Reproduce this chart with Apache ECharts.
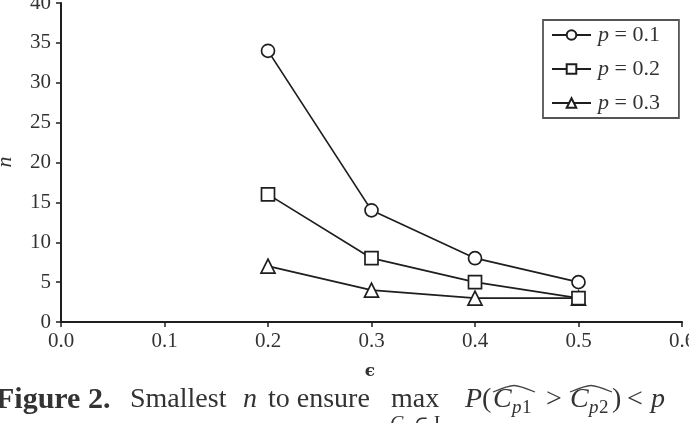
<!DOCTYPE html>
<html>
<head>
<meta charset="utf-8">
<script src="https://cdn.jsdelivr.net/npm/echarts@6/dist/echarts.min.js"></script>
<style>
html,body{margin:0;padding:0;background:#fff;}
#c{width:689px;height:423px;}
</style>
</head>
<body>
<div id="c"></div>
<script>
// Data
const epsValues = [0.2, 0.3, 0.4, 0.5];
const seriesNames = ['p = 0.1', 'p = 0.2', 'p = 0.3'];
const nP01 = [34, 14, 8, 5];
const nP02 = [16, 8, 5, 3];
const nP03 = [7, 4, 3, 3];
const xTicks = ['0.0', '0.1', '0.2', '0.3', '0.4', '0.5', '0.6'];
const yTicks = ['0', '5', '10', '15', '20', '25', '30', '35', '40'];

const chart = echarts.init(document.getElementById('c'), null, {renderer: 'canvas'});
const SERIF = '"Liberation Serif", "DejaVu Serif", serif';
const ink = '#1e1e1e';
const txt = '#333';

function pairs(vals) { return epsValues.map((e, i) => [e, vals[i]]); }

const symbols = ['circle', 'rect', 'triangle'];
const allVals = [nP01, nP02, nP03];

const series = seriesNames.map((nm, k) => ({
  name: nm,
  type: 'line',
  data: pairs(allVals[k]),
  symbol: symbols[k],
  symbolSize: k === 2 ? 14 : 13,
  showAllSymbol: true,
  lineStyle: {color: ink, width: 1.7},
  itemStyle: {color: '#fff', borderColor: ink, borderWidth: 1.7},
  emphasis: {disabled: true},
  z: k === 1 ? 4 : 3,
  animation: false
}));

const capY = 400;
const capFont = 28;
function t(x, y, s, opts) {
  return {
    type: 'text', x: x, y: y,
    style: Object.assign({text: s, fill: txt, font: capFont + 'px ' + SERIF, textAlign: 'left', textVerticalAlign: 'middle'}, opts || {})
  };
}
function hat(x1, x2) {
  const m = (x1 + x2) / 2;
  return {type: 'polyline', shape: {points: [[x1, 392], [m, 385.5], [x2, 392]], smooth: 0.25},
          style: {stroke: '#444', lineWidth: 1.3, fill: null}};
}

const graphic = [
  {type: 'text', x: 5, y: 162, rotation: Math.PI / 2,
   style: {text: 'n', fill: txt, font: 'italic 22px ' + SERIF, textAlign: 'center', textVerticalAlign: 'middle'}},
  {type: 'text', x: 370, y: 372,
   style: {text: 'ϵ', fill: txt, font: 'bold 17px "DejaVu Serif", serif', textAlign: 'center', textVerticalAlign: 'middle'}},
  t(-4, capY, 'Figure 2.', {font: 'bold 30px ' + SERIF}),
  t(130, capY, 'Smallest'),
  t(243, capY, 'n', {font: 'italic ' + capFont + 'px ' + SERIF}),
  t(268, capY, 'to ensure'),
  t(391, capY, 'max'),
  t(390, 415, 'C', {font: 'italic 20px ' + SERIF, textVerticalAlign: 'top'}),
  t(404, 421, 'p', {font: 'italic 14px ' + SERIF, textVerticalAlign: 'top'}),
  t(414, 415, '∈ I', {font: '20px ' + SERIF, textVerticalAlign: 'top'}),
  t(465, capY, 'P', {font: 'italic ' + capFont + 'px ' + SERIF}),
  t(482, capY, '('),
  t(493, capY, 'C', {font: 'italic ' + capFont + 'px ' + SERIF}),
  t(512, capY + 8, 'p', {font: 'italic 19px ' + SERIF}),
  t(522, capY + 8, '1', {font: '19px ' + SERIF}),
  hat(493, 535),
  t(546, capY, '>'),
  t(570, capY, 'C', {font: 'italic ' + capFont + 'px ' + SERIF}),
  t(589, capY + 8, 'p', {font: 'italic 19px ' + SERIF}),
  t(599, capY + 8, '2', {font: '19px ' + SERIF}),
  hat(570, 612),
  t(612, capY, ')'),
  t(627, capY, '<'),
  t(651, capY, 'p', {font: 'italic ' + capFont + 'px ' + SERIF})
];

const option = {
  animation: false,
  backgroundColor: '#fff',
  grid: {left: 61, right: 7, top: 3, bottom: 101, containLabel: false, outerBoundsMode: 'none'},
  xAxis: {
    type: 'value', min: 0, max: 0.6, interval: 0.1,
    axisLine: {show: true, onZero: false, lineStyle: {color: ink, width: 2}},
    axisTick: {show: true, inside: false, length: 5, lineStyle: {color: ink, width: 1.5}},
    splitLine: {show: false},
    axisLabel: {
      color: txt, fontFamily: SERIF, fontSize: 21, margin: 9,
      showMaxLabel: true, showMinLabel: true, hideOverlap: false,
      formatter: v => xTicks[Math.round(v * 10)]
    }
  },
  yAxis: {
    type: 'value', min: 0, max: 40, interval: 5,
    axisLine: {show: true, lineStyle: {color: ink, width: 2}},
    axisTick: {show: true, inside: false, length: 5, lineStyle: {color: ink, width: 1.5}},
    splitLine: {show: false},
    axisLabel: {
      color: txt, fontFamily: SERIF, fontSize: 21, margin: 10,
      showMaxLabel: true, hideOverlap: false,
      formatter: v => yTicks[Math.round(v / 5)]
    }
  },
  legend: {
    orient: 'vertical',
    left: 543, top: 20,
    padding: [4, 19, 4, 8],
    itemWidth: 39, itemHeight: 12, itemGap: 12,
    backgroundColor: '#fff',
    borderColor: '#555', borderWidth: 1.8, borderRadius: 0,
    selectedMode: false,
    data: seriesNames,
    formatter: n => '{i|p}{r|' + n.slice(1) + '}',
    textStyle: {
      color: txt, fontFamily: SERIF, fontSize: 22, lineHeight: 22, padding: [0, 0, 0, 2],
      rich: {
        i: {fontFamily: SERIF, fontSize: 22, lineHeight: 22, fontStyle: 'italic', color: txt},
        r: {fontFamily: SERIF, fontSize: 22, lineHeight: 22, color: txt}
      }
    }
  },
  series: series,
  graphic: graphic
};
chart.setOption(option);
</script>
</body>
</html>
